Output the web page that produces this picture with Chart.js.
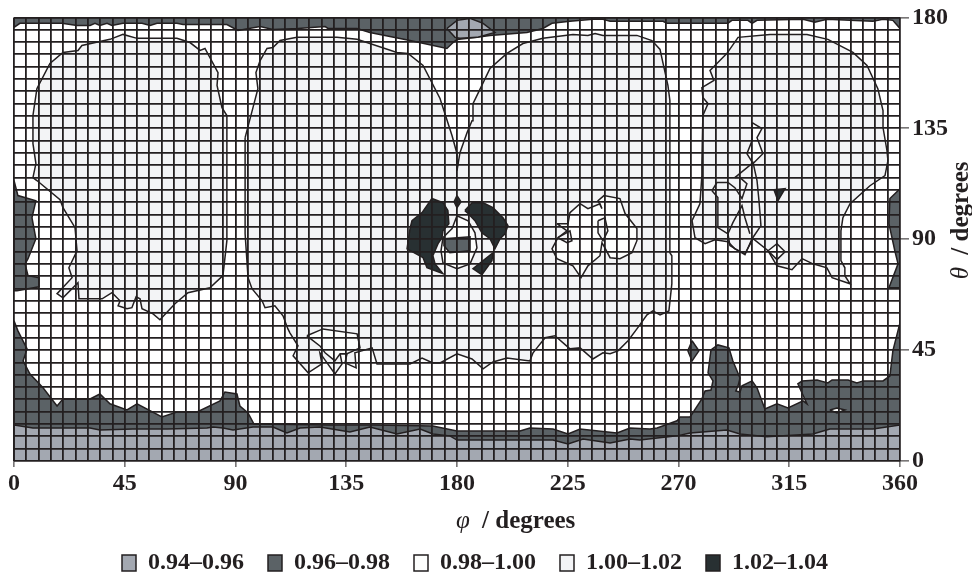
<!DOCTYPE html>
<html>
<head>
<meta charset="utf-8">
<style>
  html, body { margin: 0; padding: 0; background: #fff; }
  canvas { display: block; }
</style>
<script src="https://cdn.jsdelivr.net/npm/chart.js@4/dist/chart.umd.min.js"></script>
</head>
<body>
<canvas id="c" width="972" height="575"></canvas>
<script>
// all outlines are [phi, theta] in degrees
var tickLabels = [0, 45, 90, 135, 180, 225, 270, 315, 360];
var legendLabels = ['0.94–0.96', '0.96–0.98', '0.98–1.00', '1.00–1.02', '1.02–1.04'];
var legendColors = ['#a3a8b1', '#5b6266', '#fdfefd', '#f3f4f6', '#283032'];

var darkBottom = [[0,56.9],[1.6,52.8],[5.3,45.5],[3.7,40.6],[6.5,35.3],[11.8,29.7],[17.5,22.3],[19.9,25.2],[30.9,25.2],[34.9,27.2],[39,23.2],[45.9,20.7],[50,23.2],[60.1,17.9],[66.2,19.9],[74.4,19.9],[83.7,24.4],[85.7,28],[90.6,27.2],[91.8,22.3],[95.1,19.5],[97.5,15],[128.4,14.6],[145.9,14.6],[170.2,14.2],[180,12.2],[205.6,12.2],[209.6,13.4],[219,13],[225.1,11],[230,13],[245,11.4],[250.3,13.4],[258.4,13],[261.3,13.4],[269.4,16.3],[270.6,17.9],[274.7,17.9],[279.5,25.2],[280.8,28.4],[283.2,28.8],[284,32.5],[282,35.8],[283.2,45.1],[286,47.1],[290.5,45.9],[292.1,40.6],[295,33.7],[294.2,30.5],[293.3,28.4],[295,28],[295.8,30.5],[299.9,32.5],[301.9,29.7],[305.1,21.1],[310,23.2],[314.5,21.5],[320.6,24.4],[322.2,23.2],[318.5,31.3],[320.2,32.5],[326.3,32.9],[330.7,31.7],[332.4,32.9],[338.9,32.9],[342.5,31.7],[345,32.5],[353.1,32.5],[355.9,34.5],[357.1,44.7],[360,56.1],[360,0],[0,0]];
var greyBottom = [[0,14.6],[7.7,13.4],[21.5,13.4],[30.9,13.4],[34.9,12.6],[48.3,13],[62.2,13],[78.4,13.4],[80.9,13.8],[84.9,13.4],[89,12.6],[97.1,13.8],[105.2,13.8],[110.9,11.4],[116.2,13.4],[124.3,13.8],[136.5,11.8],[144.6,13.8],[155.6,11],[165,13],[170.2,11],[177.1,10.2],[180,8.5],[219,8.5],[225.1,6.9],[231.2,8.9],[242.2,7.3],[250.3,8.9],[254.3,8.5],[269.4,10.2],[274.7,11.4],[289.7,12.6],[295,11],[305.9,9.8],[324.6,11],[331.5,13],[349,13],[360,14.6],[360,0],[0,0]];
var darkTop = [[0,175.9],[2.4,177.6],[19.5,177.6],[25.6,176.7],[30.9,176.7],[32.9,177.6],[34.9,176.7],[37.8,177.6],[39.8,176.7],[44.3,177.6],[52,177.6],[55.3,176.7],[58.1,177.6],[66.2,177.6],[68.7,177.1],[86.5,177.1],[91,174.7],[100,176.3],[105.2,175.1],[115.4,175.5],[126.4,176.3],[127.6,175.5],[139.4,175.5],[144.6,173.9],[160.9,170.6],[175.9,167.4],[178.4,169.8],[180,171],[188.1,171.9],[193.4,172.7],[208.4,173.9],[214.9,175.5],[218.6,177.6],[225.9,178.4],[235.2,179.2],[239.3,179.2],[242.2,178.4],[263.7,178.4],[265.3,177.6],[290.1,177.6],[291.7,178.8],[298.2,178.8],[299.9,177.6],[301.9,178.8],[320.6,179.2],[325.4,178],[330.3,179.2],[349,178.4],[353.1,179.2],[357.1,178.8],[360,175.5],[360,180],[0,180]];
var greyTop = [[175.9,175.5],[180,178.8],[185.3,179.6],[190.6,177.6],[195.4,173.9],[188.1,171.9],[181.2,171.5],[179.2,171.9]];
var darkLeft = [[0,113.8],[1.6,107.7],[8.9,105.6],[7.3,98.7],[8.9,90.2],[5.7,82.1],[4.5,80],[5.7,75.2],[10.2,74.4],[10.2,70.7],[1.2,69.1],[0,69.1]];
var darkRight = [[360,110.5],[355.9,106.5],[355.5,96.3],[357.9,85.3],[359.2,80],[355.5,70.3],[360,70.3]];
var darkDiamond = [[275.5,48.8],[278.3,44.7],[275.5,40.6],[273.8,44.7]];
var whiteEye = [[331.5,20.7],[334.4,21.5],[337.6,20.7],[334.4,19.5]];

var lightLeft = [[7.7,140.2],[9.3,151.1],[14.6,161.3],[19.9,165.8],[26,166.6],[27.6,168.6],[39,171.1],[44.3,173.1],[50,171.5],[66.2,171.5],[71.5,169.8],[75.6,166.6],[77.6,167.4],[82.9,157.6],[82.5,152.4],[84.5,143.4],[86.5,140.2],[86.5,89.4],[84.9,75.2],[79.6,70.3],[70.7,68.3],[65.4,63.8],[59.3,57.3],[56.5,59.7],[52,61.8],[51.2,65.8],[49.6,66.6],[47.9,62.2],[45.9,61.8],[42.3,63],[43.1,65],[39.8,68.3],[35.8,65.8],[26.4,65.8],[26,72.3],[19.9,66.2],[17.5,67.9],[23.6,74.4],[22.3,78.4],[25.6,85.3],[24.8,94.7],[19.9,102.8],[18.7,106],[9.3,113.8],[7.7,115],[8.9,120.7],[7.7,128.8]];
var lightMiddle = [[93.9,131.2],[97.1,143.4],[99.1,151.1],[98.3,157.6],[100,162.5],[102.8,167.4],[105.2,167.8],[108.1,170.6],[115,171.9],[131.2,171.9],[139.4,171.1],[155.6,165.8],[160.1,165.4],[166.2,160.5],[173.1,147.1],[178,132],[180,124.7],[180,117.8],[181.2,125.1],[184.1,133.3],[186.1,138.1],[186.5,145],[190.1,152.4],[193.4,159.3],[200.3,165.4],[206.8,169.4],[214.9,171.5],[227.1,173.1],[233.2,172.7],[236.1,173.5],[239.3,172.7],[253.1,172.7],[259.2,170.6],[262.5,167],[263.3,163.3],[265.7,152.4],[266.5,146.3],[266.5,84.5],[267.3,83.3],[267.3,71.9],[266.1,60.9],[262.5,59.3],[259.6,60.9],[257.2,59.3],[253.1,53.6],[249.5,48.8],[245.4,44.7],[242.2,43.5],[239.3,43.9],[235.2,41.4],[230,45.9],[225.9,45.5],[219.8,50.8],[215.8,50],[212.5,45.9],[210.9,43.9],[209.6,40.6],[200.3,41.8],[194.6,40.2],[190.6,37.4],[186.1,41.4],[180,43.5],[173.1,39.8],[170.2,39.8],[165.8,41.8],[160.9,39.4],[147.5,39.4],[145.5,45.9],[138.5,43.9],[139,37.8],[134.5,39.8],[135.3,43.5],[132.5,43.5],[133.3,39.4],[130.4,35.3],[127.2,39.8],[124.3,43.9],[125.1,39.4],[119.5,35.8],[113.4,42.7],[115.4,46.7],[112.1,52],[111.3,53.6],[109.3,58.9],[106,63],[102,62.2],[100.8,65],[96.7,69.9],[95.1,74.4],[93.9,92.2],[93.9,121.9]];
var lightRight = [[279.5,120.7],[279.9,140.2],[282,145],[279.9,147.5],[279.5,151.5],[284.4,154.4],[282.8,158.5],[284,159.7],[289.7,165.4],[294.2,171.9],[307.2,173.1],[322.2,173.1],[330.7,171.1],[340.9,165.8],[346.6,160.5],[351,151.1],[353.1,142.2],[353.1,135.3],[354.7,126],[355.1,121.9],[353.9,115.8],[347.8,111.7],[339.7,104.4],[336.8,98.7],[336,93.4],[336,81.3],[337.6,78.4],[337.6,75.2],[339.7,71.9],[332.4,74.4],[330.3,78.4],[324.6,80],[320.2,82.1],[316.1,77.6],[310,79.2],[306.4,85.3],[300.3,90.2],[297,84.1],[292.9,86.1],[290.1,89],[284.8,89.8],[280.8,88.2],[276.7,90.6],[275.5,97.5],[278.7,104.4],[279.5,115.8]];

var whitePatch = [[119,50.8],[125.5,53.6],[139.4,51.6],[140.6,45.9],[135.3,43.5],[132.5,43.5],[130.4,40.6],[126.4,43.9],[124.3,46.7]];
var whiteCentre = [[177.1,93.4],[174.3,90.6],[173.5,85.3],[174.3,80.4],[180,78],[185.3,80],[188.1,86.5],[187.3,92.6],[184.5,97.5],[180,99.5],[178,94.3]];
var whiteBlob = [[220.6,96.3],[225.1,96.3],[225.9,100.8],[230,104.4],[233.2,102.4],[238.1,104.4],[238.9,102.4],[237.3,105.6],[239.7,107.7],[246.2,106.5],[248.3,100.4],[253.1,94.3],[253.1,89.4],[251.1,84.5],[246.2,82.1],[242.2,82.5],[240.1,86.5],[238.9,88.6],[238.1,83.3],[233.2,79.2],[230.4,74.4],[227.1,79.2],[220.6,82.1],[218.6,86.1],[221,90.6],[224.7,93.4]];
var lightSpotA = [[237.3,97.5],[240.1,98.7],[241.3,93.4],[239.3,89.4],[237.3,92.6]];
var lightSpotB = [[221,90.6],[225.9,93.4],[226.7,89.4],[224.7,88.6]];
var whiteSliver = [[299.9,137.3],[303.9,134.9],[301.9,131.2],[304.3,124.7],[300.3,120.7],[297.8,124.7],[299.9,130]];
var whiteRing = [[306.4,85.3],[310,88.2],[313.3,84.9],[310,81.7]];

var greyCentre = [[174.7,90.2],[185.3,91],[185.3,85.3],[177.1,84.5],[174.7,87.4]];
var blackLeft = [[169.8,106.5],[174.3,104.8],[176.3,101.6],[176.7,96.3],[174.3,93.4],[173.9,90.6],[172.3,88.2],[170.2,83.3],[171.1,80],[174.3,76],[167.8,78.4],[166.2,82.5],[159.7,86.1],[160.9,94.3],[161.7,97.5],[165.8,100.8]];
var blackDiamond = [[180,107.7],[181.6,105.2],[180,102.8],[178.8,105.2]];
var blackRight = [[183.2,101.6],[186.1,104.8],[190.6,104.8],[194.6,102.8],[198.7,98.7],[200.7,95.5],[199.5,92.2],[197.5,90.2],[195.4,86.1],[193.4,90.2],[190.1,92.6],[187.3,97.5],[184.5,100.4]];
var blackTip = [[194.6,84.5],[194.2,81.3],[190.1,75.6],[186.5,78]];
var blackTriangle = [[308.8,110.1],[313.3,110.5],[310.4,105.6]];

// open contour pieces, line only
var contourA = [[292.9,115],[300.3,121.1],[301.9,113.8],[302.7,105.6],[303.5,95.5],[299.9,90.2],[297,83.7],[290.9,87.4],[290.1,92.2],[292.1,96.7],[295.8,103.6],[297,98.7],[299,92.2]];
var contourB = [[283.6,109.7],[285.6,113],[290.1,113],[292.9,110.9],[295.8,106.5],[297.8,112.5],[295,115],[292.9,115]];
var contourC = [[283.6,109.7],[286,106.9],[286,94.7],[290.1,92.2]];

var GREY = legendColors[0], DARK = legendColors[1], WHITE = legendColors[2], LIGHT = legendColors[3], BLACK = legendColors[4];
var INK = '#231f20';

// painted in this order, later ones on top
var layers = [
    [darkBottom, DARK], [greyBottom, GREY], [darkTop, DARK], [greyTop, GREY],
    [darkLeft, DARK], [darkRight, DARK], [darkDiamond, DARK], [whiteEye, WHITE],
    [lightLeft, LIGHT], [lightMiddle, LIGHT], [lightRight, LIGHT],
    [whitePatch, WHITE], [whiteCentre, WHITE], [whiteBlob, WHITE],
    [lightSpotA, LIGHT], [lightSpotB, LIGHT], [whiteSliver, WHITE], [whiteRing, WHITE],
    [greyCentre, DARK], [blackLeft, BLACK], [blackDiamond, BLACK], [blackRight, BLACK],
    [blackTip, BLACK], [blackTriangle, BLACK],
    [contourA, null], [contourB, null], [contourC, null]
];

var datasets = [];
for (var i = 0; i < layers.length; i++) {
    var pts = layers[i][0], col = layers[i][1];
    var data = pts.map(function(p) { return { x: p[0], y: p[1] }; });
    if (col) data.push({ x: pts[0][0], y: pts[0][1] });
    datasets.push({
        data: data,
        showLine: true,
        pointRadius: 0,
        borderWidth: 1.5,
        borderColor: INK,
        backgroundColor: col || 'transparent',
        fill: col ? 'shape' : false,
        order: layers.length - i
    });
}

var serif = '"Liberation Serif", serif';

function mark45(value) {
    return tickLabels.indexOf(value) >= 0;
}

// axis titles have an italic greek letter, the built in title can't mix fonts
var axisTitles = {
    id: 'axisTitles',
    afterLayout: function(chart) {
        // legend sits a bit right of the plot centre
        chart.legend.left += 36;
    },
    afterDraw: function(chart) {
        var ctx = chart.ctx, a = chart.chartArea;
        function mixed(sym, x, y) {
            ctx.textAlign = 'left';
            ctx.textBaseline = 'alphabetic';
            ctx.fillStyle = INK;
            ctx.font = 'italic 25px ' + serif;
            ctx.fillText(sym, x, y);
            var w = ctx.measureText(sym).width;
            ctx.font = 'bold 25px ' + serif;
            ctx.fillText(' / degrees', x + w + 6, y);
        }
        mixed('φ', (a.left + a.right) / 2 - 1, a.bottom + 67);
        ctx.save();
        ctx.translate(a.right + 68, (a.top + a.bottom) / 2 + 40);
        ctx.rotate(-Math.PI / 2);
        mixed('θ', 0, 0);
        ctx.restore();
    }
};

new Chart(document.getElementById('c'), {
    type: 'scatter',
    data: { datasets: datasets },
    plugins: [axisTitles],
    options: {
        responsive: false,
        animation: false,
        layout: { padding: { left: 14, top: 17, right: 0, bottom: -10 } },
        plugins: {
            tooltip: { enabled: false },
            legend: {
                position: 'bottom',
                fullSize: false,
                labels: {
                    color: INK,
                    font: { family: serif, size: 24, weight: 'bold' },
                    boxWidth: 14,
                    boxHeight: 16,
                    padding: 24,
                    generateLabels: function() {
                        return legendLabels.map(function(t, k) {
                            return { text: t, fillStyle: legendColors[k], strokeStyle: INK, lineWidth: 1.5, fontColor: INK, hidden: false };
                        });
                    }
                }
            }
        },
        scales: {
            x: {
                type: 'linear',
                min: 0,
                max: 360,
                afterFit: function(s) { s.height = 66; },
                grid: {
                    z: 1, color: INK, lineWidth: 1.8, drawTicks: true, tickLength: 6, tickWidth: 1,
                    tickColor: function(c) { return mark45(c.tick.value) ? INK : 'transparent'; }
                },
                border: { display: false },
                ticks: {
                    stepSize: 5,
                    autoSkip: false,
                    maxRotation: 0,
                    padding: 2,
                    color: INK,
                    font: { family: serif, size: 24, weight: 'bold' },
                    callback: function(v) { return mark45(v) ? String(v) : ''; }
                }
            },
            y: {
                type: 'linear',
                position: 'right',
                min: 0,
                max: 180,
                afterFit: function(s) { s.width = 72; },
                grid: {
                    z: 1, color: INK, lineWidth: 1.8, drawTicks: true, tickLength: 9, tickWidth: 1,
                    tickColor: function(c) { return mark45(c.tick.value) ? INK : 'transparent'; }
                },
                border: { display: false },
                ticks: {
                    stepSize: 5,
                    autoSkip: false,
                    padding: 3,
                    color: INK,
                    font: { family: serif, size: 24, weight: 'bold' },
                    callback: function(v) { return mark45(v) ? String(v) : ''; }
                }
            }
        }
    }
});
</script>
</body>
</html>
